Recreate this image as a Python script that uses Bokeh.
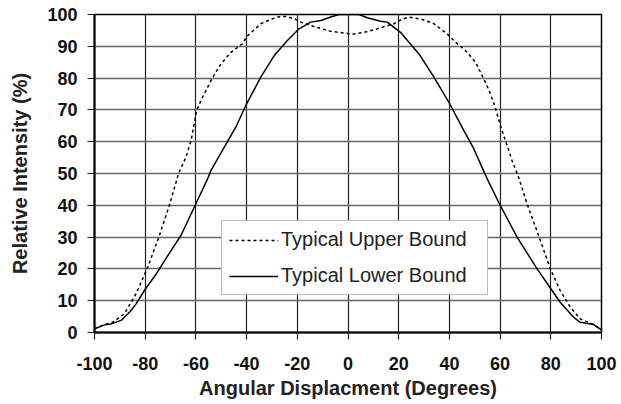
from bokeh.plotting import figure
from bokeh.models import FixedTicker, Range1d, Legend, LegendItem
from bokeh.embed import file_html
from bokeh.resources import INLINE

# Typical Upper Bound (dashed)
upper_x = [-100, -96, -92.8, -88.2, -83.6, -79, -74.4, -70.5, -66.8, -64, -61.9, -59.7, -57.7,
           -53.8, -52.1, -50.1, -46.2, -41.6, -39.9, -34.4, -30, -27.8, -24.5, -21, -18.6, -13.4,
           -6.8, -3.5, 0, 2.4, 6.3, 11.6, 18.1, 21, 24, 28.6, 33.9, 39.1, 42.4, 46.3, 50.3,
           52.2, 54.2, 56.2, 58.1, 60.1, 62.1, 64.7, 67.3, 70.6, 75.2, 79.8, 83.7, 87.7, 91.6,
           96.9, 100]
upper_y = [1.2, 2.5, 3.2, 5.9, 12.2, 20.5, 30.5, 39.9, 50.1, 55, 60.4, 69.8, 73.5,
           79.6, 81.9, 84.5, 88.1, 90.8, 93.1, 97.1, 98.6, 99.2, 99.4, 98.6, 97.6, 96.2,
           94.7, 94.4, 94.0, 93.9, 94.4, 95.5, 97.1, 98.4, 99.2, 98.6, 97.1, 93.9, 91.3, 88.7, 85.0,
           81.9, 78.7, 75.0, 70.8, 65.1, 60.4, 54.1, 48.8, 40.5, 30.5, 20.0, 13.2, 8.0, 4.3,
           2.5, 0.8]

# Typical Lower Bound (solid)
lower_x = [-100, -96, -93.4, -89.5, -86, -83.6, -80, -76, -74.4, -70, -65.9, -60, -55.4, -54.1,
           -48.8, -44, -40.3, -34.4, -29.1, -23.9, -19.3, -14.7, -10.7, -6.8, -3.5, 0, 4.3,
           7.6, 12.9, 15.5, 20.7, 28, 33.9, 39.8, 45.7, 49.6, 54.9, 60.1, 66.7, 74.6, 80.5,
           83.7, 89, 91.6, 96.9, 100]
lower_y = [1.2, 2.4, 2.7, 3.8, 6.5, 9.0, 13.6, 18.0, 20.0, 25.5, 30.5, 40.5, 48.3, 50.9,
           58.3, 65.0, 71.4, 80.3, 87.1, 91.8, 95.5, 97.6, 98.1, 99.2, 100, 100, 100,
           99.0, 97.9, 97.6, 94.4, 87.6, 80.3, 72.4, 63.5, 57.8, 48.3, 39.9, 30.0, 20.0, 13.2,
           9.5, 4.8, 3.2, 2.5, 0.8]

x_ticks = [-100, -80, -60, -40, -20, 0, 20, 40, 60, 80, 100]
y_ticks = [0, 10, 20, 30, 40, 50, 60, 70, 80, 90, 100]
x_labels = ["-100", "-80", "-60", "-40", "-20", "0", "20", "40", "60", "80", "100"]

FONT = "Liberation Sans"

p = figure(width=621, height=404, output_backend="svg", toolbar_location=None,
           x_range=Range1d(-100, 100), y_range=Range1d(0, 100),
           min_border_left=94, min_border_right=20, min_border_top=14, min_border_bottom=72)

p.background_fill_color = "white"
p.border_fill_color = "white"
p.outline_line_color = "black"
p.outline_line_width = 1.5

for ax in (p.xaxis[0], p.yaxis[0]):
    ax.axis_line_color = "black"
    ax.axis_line_width = 2
    ax.major_tick_line_color = "#222222"
    ax.major_tick_line_width = 1.2
    ax.major_tick_in = 0
    ax.major_tick_out = 7
    ax.minor_tick_line_color = None
    ax.major_label_text_font = FONT
    ax.major_label_text_font_style = "bold"
    ax.major_label_text_font_size = "18px"
    ax.major_label_text_color = "#111111"
    ax.axis_label_text_font = FONT
    ax.axis_label_text_font_style = "bold"
    ax.axis_label_text_font_size = "20px"
    ax.axis_label_text_color = "#222222"

p.xaxis.ticker = FixedTicker(ticks=x_ticks)
p.yaxis.ticker = FixedTicker(ticks=y_ticks)
p.xaxis.major_label_overrides = {t: s for t, s in zip(x_ticks, x_labels)}
p.xaxis.major_label_standoff = 17
p.yaxis.major_label_standoff = 10
p.xaxis.axis_label = "Angular Displacment (Degrees)"
p.yaxis.axis_label = "Relative Intensity (%)"
p.xaxis.axis_label_standoff = 4
p.yaxis.axis_label_standoff = 13

p.xgrid.ticker = FixedTicker(ticks=x_ticks)
p.ygrid.ticker = FixedTicker(ticks=y_ticks)
p.xgrid.grid_line_color = "#222222"
p.xgrid.grid_line_width = 1.2
p.ygrid.grid_line_color = "#666666"
p.ygrid.grid_line_width = 1.6

r_up = p.line(upper_x, upper_y, line_color="black", line_width=1.5, line_dash="3 3")
r_lo = p.line(lower_x, lower_y, line_color="black", line_width=1.5)

legend = Legend(items=[LegendItem(label="Typical Upper Bound", renderers=[r_up]),
                       LegendItem(label="Typical Lower Bound", renderers=[r_lo])],
                location=(127, 37))
legend.label_text_font = FONT
legend.label_text_font_size = "20px"
legend.label_text_color = "#222222"
legend.glyph_width = 49
legend.glyph_height = 20
legend.label_height = 20
legend.label_width = 199
legend.label_standoff = 3
legend.spacing = 13
legend.padding = 7
legend.margin = 0
legend.border_line_color = "#777777"
legend.border_line_width = 1.5
legend.background_fill_color = "white"
legend.background_fill_alpha = 1
p.add_layout(legend, "center")

open("out.html", "w").write(file_html(p, INLINE))
